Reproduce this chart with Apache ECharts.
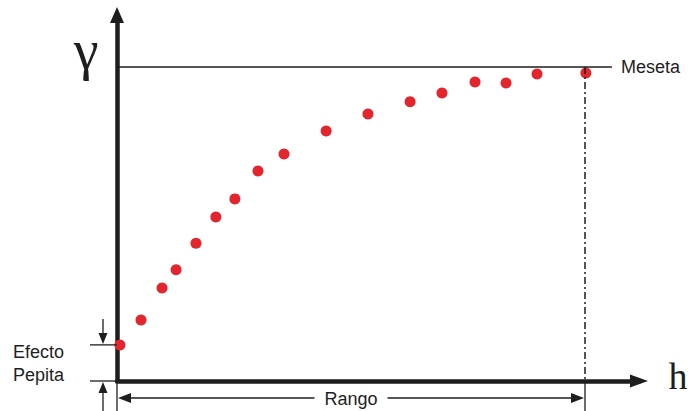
<!DOCTYPE html>
<html>
<head>
<meta charset="utf-8">
<script src="https://cdn.jsdelivr.net/npm/echarts@6/dist/echarts.min.js"></script>
<style>
  html, body { margin: 0; padding: 0; background: #fff; }
  #chart { width: 688px; height: 411px; }
</style>
</head>
<body>
<div id="chart"></div>
<script>
// semivariogram points (lag h, gamma)
var lags = [0.10, 0.82, 1.54, 2.02, 2.70, 3.38, 4.03, 4.82, 5.71, 7.15, 8.58, 10.02, 11.11, 12.24, 13.30, 14.36, 16.03];
var gammas = [0.115, 0.194, 0.296, 0.354, 0.439, 0.522, 0.580, 0.669, 0.723, 0.796, 0.850, 0.889, 0.917, 0.952, 0.949, 0.978, 0.981];
var nugget = 0.115;
var sill = 1.0;
var range = 16;
var sillEnd = 16.92;
var labels = { sill: 'Meseta', range: 'Rango', nugget: 'Efecto\nPepita', y: 'γ', x: 'h' };

var ink = '#1e1e1e';
var red = '#e3262d';
var sans = '"Liberation Sans", Arial, sans-serif';
var serif = '"Liberation Serif", "DejaVu Serif", serif';

var chart = echarts.init(document.getElementById('chart'), null, { renderer: 'svg' });
chart.setOption({
  animation: false,
  grid: { left: 117, right: 49, top: 15, bottom: 30 },
  xAxis: {
    type: 'value', min: 0, max: 17.846,
    axisLine: { lineStyle: { color: ink, width: 4.5 }, symbol: ['none', 'triangle'], symbolSize: [13, 18] },
    axisTick: { show: false }, axisLabel: { show: false }, splitLine: { show: false }
  },
  yAxis: {
    type: 'value', min: 0, max: 1.1656,
    axisLine: { lineStyle: { color: ink, width: 4.5 }, symbol: ['none', 'triangle'], symbolSize: [14, 16] },
    axisTick: { show: false }, axisLabel: { show: false }, splitLine: { show: false }
  },
  series: [{
    type: 'scatter',
    clip: false,
    symbolSize: 11,
    itemStyle: { color: red, opacity: 1 },
    z: 5,
    data: lags.map(function(h, i) { return [h, gammas[i]]; })
  }]
});

function px(x, y) { return chart.convertToPixel({ gridIndex: 0 }, [x, y]); }
function line(x1, y1, x2, y2, w, dash) {
  return { type: 'line', shape: { x1: x1, y1: y1, x2: x2, y2: y2 },
    style: { stroke: ink, lineWidth: w || 1.3, lineDash: dash || null }, z: 10 };
}
function head(tx, ty, dx, dy, len, half) {
  // triangle with tip at (tx,ty) pointing along (dx,dy)
  var bx = tx - dx * len, by = ty - dy * len;
  return { type: 'polygon', shape: { points: [[tx, ty], [bx - dy * half, by + dx * half], [bx + dy * half, by - dx * half]] },
    style: { fill: ink }, z: 10 };
}
function label(x, y, text, size, family, extra) {
  var style = { text: text, fill: ink, fontSize: size, fontFamily: family, verticalAlign: 'middle' };
  for (var k in extra) style[k] = extra[k];
  return { type: 'text', x: x, y: y, z: 11, style: style };
}

var o = px(0, 0), pSill0 = px(0, sill), pSill1 = px(sillEnd, sill);
var pR = px(range, sill), pR0 = px(range, 0), pN = px(0, nugget);
var bottom = 411, arrY = o[1] + 17, tickL = o[0] - 27, arrX = o[0] - 14;

chart.setOption({
  graphic: [
    line(pSill0[0], pSill0[1], pSill1[0], pSill1[1], 1.6),
    label(pSill1[0] + 9, pSill1[1], labels.sill, 18, sans),
    line(pR[0], pR[1], pR0[0], pR0[1], 1.5, [7, 3, 2, 3]),
    line(pR0[0], pR0[1], pR0[0], bottom, 1.3),
    line(o[0], o[1], o[0], bottom, 1.3),
    line(o[0] + 6, arrY, pR0[0] - 6, arrY, 1.3),
    head(o[0] + 1, arrY, -1, 0, 13, 5),
    head(pR0[0] - 1, arrY, 1, 0, 13, 5),
    label((o[0] + pR0[0]) / 2, arrY + 1, labels.range, 18, sans,
      { align: 'center', backgroundColor: '#fff', padding: [0, 10] }),
    line(tickL, pN[1], o[0], pN[1], 1.3),
    line(tickL, o[1], o[0], o[1], 1.3),
    line(arrX, pN[1] - 26, arrX, pN[1] - 8, 1.3),
    head(arrX, pN[1] - 1, 0, 1, 11, 4.5),
    line(arrX, bottom, arrX, o[1] + 8, 1.3),
    head(arrX, o[1] + 1, 0, -1, 11, 4.5),
    label(13, pN[1] + 19, labels.nugget, 18, sans, { lineHeight: 23 }),
    label(86, 50, labels.y, 56, serif, { align: 'center' }),
    label(678, 376, labels.x, 38, serif, { align: 'center' })
  ]
});
window.addEventListener('resize', function() { chart.resize(); });
</script>
</body>
</html>
